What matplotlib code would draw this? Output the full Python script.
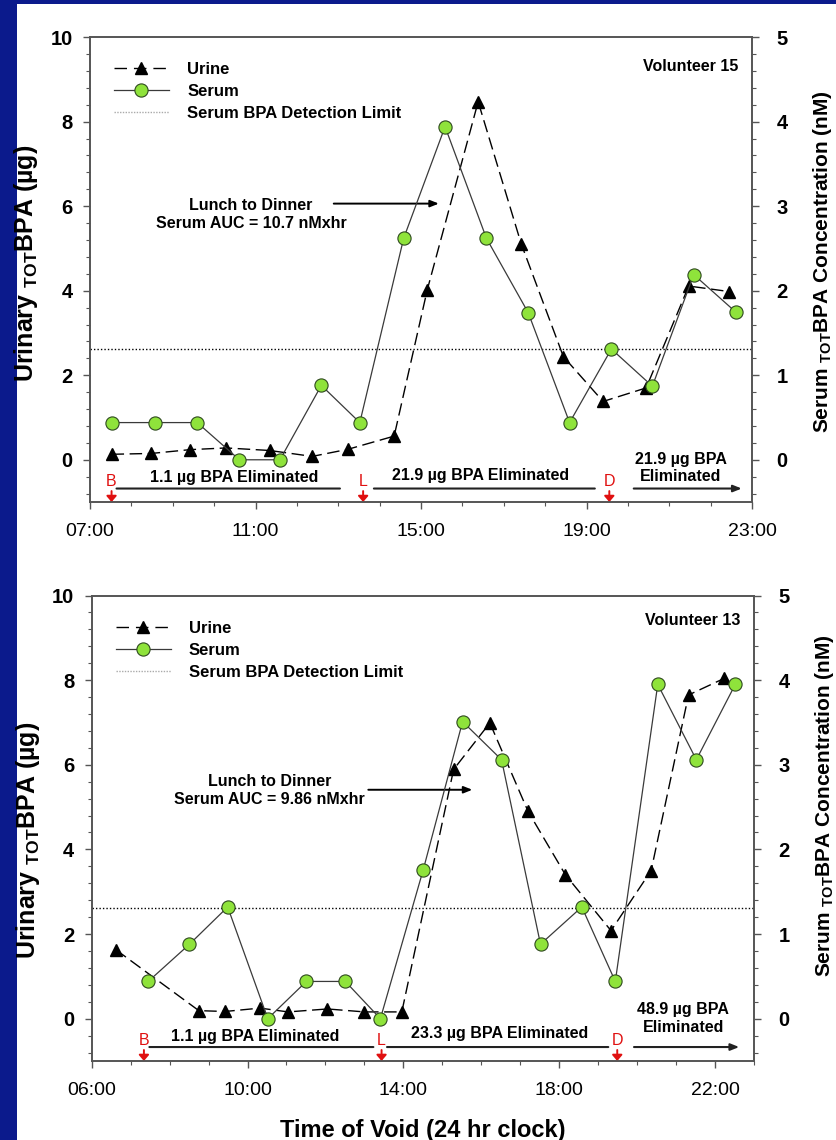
import matplotlib
matplotlib.use('Agg')
import matplotlib.pyplot as plt
from matplotlib.ticker import MultipleLocator
from matplotlib.lines import Line2D
from matplotlib.patches import Rectangle

plt.rcParams['font.family'] = ['Liberation Sans', 'DejaVu Sans']
plt.rcParams['mathtext.fontset'] = 'custom'
plt.rcParams['mathtext.rm'] = 'Liberation Sans'
plt.rcParams['mathtext.bf'] = 'Liberation Sans:bold'
plt.rcParams['mathtext.it'] = 'Liberation Sans:italic'

# ---------------- data ----------------
# Volunteer 15 (top panel)
v15_urine_time = [7.52, 8.48, 9.42, 10.29, 11.34, 12.37, 13.24, 14.35, 15.15, 16.38,
                  17.42, 18.44, 19.40, 20.44, 21.47, 22.44]
v15_urine_ug = [0.13, 0.15, 0.24, 0.28, 0.22, 0.08, 0.25, 0.56, 4.02, 8.47,
                5.11, 2.44, 1.38, 1.70, 4.11, 3.98]
v15_serum_time = [7.52, 8.58, 9.59, 10.61, 11.59, 12.59, 13.52, 14.58, 15.58, 16.58,
                  17.59, 18.59, 19.60, 20.59, 21.59, 22.60]
v15_serum_nM = [0.44, 0.44, 0.44, 0.0, 0.0, 0.88, 0.44, 2.62, 3.94, 2.62,
                1.74, 0.44, 1.31, 0.87, 2.19, 1.75]
v15_meals = [7.52, 13.60, 19.55]
v15_elim = ['1.1 \u00b5g BPA Eliminated', '21.9 \u00b5g BPA Eliminated', '21.9 \u00b5g BPA\nEliminated']
v15_auc = 'Lunch to Dinner\nSerum AUC = 10.7 nMxhr'

# Volunteer 13 (bottom panel)
v13_urine_time = [6.62, 8.75, 9.42, 10.32, 11.04, 12.05, 13.00, 13.96, 15.29, 16.22,
                  17.20, 18.16, 19.33, 20.36, 21.32, 22.23]
v13_urine_ug = [1.63, 0.19, 0.17, 0.25, 0.16, 0.23, 0.16, 0.16, 5.89, 6.99,
                4.90, 3.40, 2.08, 3.50, 7.65, 8.04]
v13_serum_time = [7.45, 8.51, 9.49, 10.52, 11.51, 12.51, 13.41, 14.51, 15.52, 16.52,
                  17.52, 18.58, 19.44, 20.53, 21.52, 22.52]
v13_serum_nM = [0.44, 0.88, 1.32, 0.0, 0.44, 0.44, 0.0, 1.76, 3.51, 3.06,
                0.88, 1.32, 0.44, 3.95, 3.06, 3.95]
v13_meals = [7.34, 13.44, 19.49]
v13_elim = ['1.1 \u00b5g BPA Eliminated', '23.3 \u00b5g BPA Eliminated', '48.9 \u00b5g BPA\nEliminated']
v13_auc = 'Lunch to Dinner\nSerum AUC = 9.86 nMxhr'

detection_limit_nM = 1.31
meal_letters = ['B', 'L', 'D']

GREEN = '#8fe33b'
EDGE = '#2f4a1f'
SPINE = '#555555'

fig = plt.figure(figsize=(8.36, 11.4), dpi=100)
fig.patch.set_facecolor('white')
fig.add_artist(Rectangle((0, 0), 17 / 836, 1, transform=fig.transFigure,
                         facecolor='#0b1a8c', edgecolor='none', zorder=-1))
fig.add_artist(Rectangle((0, 1 - 4 / 1140), 1, 4 / 1140, transform=fig.transFigure,
                         facecolor='#0b1a8c', edgecolor='none', zorder=-1))


def draw_panel(rect, xlim, xmajor, u_t, u_v, s_t, s_v, meals, elim, auc, volunteer, lay):
    ax = fig.add_axes(rect)
    ax2 = ax.twinx()
    ax.set_xlim(*xlim)
    ax.set_ylim(-1, 10)
    ax2.set_ylim(-0.5, 5)

    ax.plot(u_t, u_v, color='black', lw=1.0, dashes=(9, 4), marker='^', ms=9,
            mfc='black', mec='black', zorder=3)
    ax2.axhline(detection_limit_nM, color='black', lw=1.0, ls=(0, (1, 1.5)), zorder=1)
    ax2.plot(s_t, s_v, color='#3a3a3a', lw=0.9, marker='o', ms=9.5, mfc=GREEN,
             mec=EDGE, mew=0.8, zorder=4)

    # ticks
    ax.set_xticks(xmajor)
    ax.set_xticklabels([f'{int(h):02d}:00' for h in xmajor], fontsize=14)
    ax.xaxis.set_minor_locator(MultipleLocator(1))
    ax.set_yticks([0, 2, 4, 6, 8, 10])
    ax.set_yticklabels(['0', '2', '4', '6', '8', '10'], fontsize=14.5, fontweight='bold')
    ax.yaxis.set_minor_locator(MultipleLocator(0.4))
    ax2.set_yticks([0, 1, 2, 3, 4, 5])
    ax2.set_yticklabels(['0', '1', '2', '3', '4', '5'], fontsize=14.5, fontweight='bold')
    ax2.yaxis.set_minor_locator(MultipleLocator(0.2))
    ax.tick_params(axis='both', which='major', direction='out', length=5, width=1, color=SPINE)
    ax.tick_params(axis='both', which='minor', direction='out', length=3, width=0.8, color=SPINE)
    ax.tick_params(axis='x', which='major', pad=10)
    ax.tick_params(axis='y', which='major', pad=7.5)
    ax2.tick_params(axis='y', which='major', direction='out', length=5, width=1, color=SPINE, pad=12.5)
    ax2.tick_params(axis='y', which='minor', direction='out', length=3, width=0.8, color=SPINE)
    for a in (ax, ax2):
        for s in a.spines.values():
            s.set_color(SPINE)
            s.set_linewidth(1.2)

    ax.set_ylabel(r'Urinary $_{\mathbf{TOT}}$BPA (µg)', fontsize=18, fontweight='bold')
    ax.yaxis.set_label_coords(-0.0755, lay['ylab_l'])
    ax2.set_ylabel(r'Serum $_{\mathbf{TOT}}$BPA Concentration (nM)', fontsize=15, fontweight='bold')
    ax2.yaxis.set_label_coords(1.089, lay['ylab_r'])

    # legend
    h_u = Line2D([], [], color='black', lw=1.0, dashes=(9, 5), marker='^', ms=9, mfc='black')
    h_s = Line2D([], [], color='#3a3a3a', lw=0.9, marker='o', ms=9.5, mfc=GREEN, mec=EDGE, mew=0.8)
    h_d = Line2D([], [], color='#aaaaaa', lw=1.0, ls=(0, (1, 1)))
    ax2.legend([h_u, h_s, h_d], ['Urine', 'Serum', 'Serum BPA Detection Limit'],
               loc='upper left', bbox_to_anchor=(0.036, lay['leg_y']), frameon=False,
               prop=dict(weight='bold', size=12), handlelength=3.3, handletextpad=1.1,
               labelspacing=0.42, borderaxespad=0, borderpad=0)

    ax.text(lay['vol'][0], lay['vol'][1], volunteer, ha='right', va='center',
            fontsize=11.5, fontweight='bold')

    # AUC annotation
    ax.text(lay['auc'][0], lay['auc'][1], auc, ha='center', va='center', fontsize=11.5,
            fontweight='bold', linespacing=1.25)
    ax.annotate('', xy=(lay['auc_arrow'][1], lay['auc_arrow'][2]),
                xytext=(lay['auc_arrow'][0], lay['auc_arrow'][2]),
                arrowprops=dict(arrowstyle='-|>,head_length=0.5,head_width=0.2', color='black',
                                lw=1.4, shrinkA=0, shrinkB=0))

    # meal markers
    for t, letter in zip(meals, meal_letters):
        ax.text(t, -0.51, letter, ha='center', va='center', fontsize=11.5, color='#e01010')
        ax.annotate('', xy=(t, -1.0), xytext=(t, -0.74),
                    arrowprops=dict(arrowstyle='-|>,head_length=0.35,head_width=0.3',
                                    color='#e01010', lw=1.4, shrinkA=0, shrinkB=0),
                    annotation_clip=False)

    # elimination spans
    for i, (txt, (x0, x1), (tx, ty)) in enumerate(zip(elim, lay['spans'], lay['elim_txt'])):
        style = '-|>,head_length=0.5,head_width=0.2' if i == 2 else '-'
        ax.annotate('', xy=(x1, lay['span_y']), xytext=(x0, lay['span_y']),
                    arrowprops=dict(arrowstyle=style, color='#222222', lw=1.5,
                                    shrinkA=0, shrinkB=0))
        ax.text(tx, ty, txt, ha='center', va='center', fontsize=11.5, fontweight='bold',
                linespacing=1.2)
    return ax, ax2


top_lay = dict(ylab_l=0.513, ylab_r=0.518, leg_y=0.946, vol=(22.68, 9.31),
               auc=(10.89, 5.81), auc_arrow=(12.89, 15.43, 6.06),
               spans=[(7.64, 13.04), (13.86, 19.2), (20.14, 22.75)], span_y=-0.68,
               elim_txt=[(10.48, -0.42), (16.43, -0.38), (21.27, -0.2)])
bot_lay = dict(ylab_l=0.473, ylab_r=0.549, leg_y=0.946, vol=(22.66, 9.42),
               auc=(10.56, 5.40), auc_arrow=(13.1, 15.77, 5.41),
               spans=[(7.48, 13.23), (13.58, 19.26), (19.92, 22.62)], span_y=-0.67,
               elim_txt=[(10.19, -0.41), (16.48, -0.34), (21.18, 0.0)])

draw_panel([0.1077, 0.5596, 0.7919, 0.4079], (7, 23), [7, 11, 15, 19, 23],
           v15_urine_time, v15_urine_ug, v15_serum_time, v15_serum_nM,
           v15_meals, v15_elim, v15_auc, 'Volunteer 15', top_lay)
axb, axb2 = draw_panel([0.1097, 0.0693, 0.7922, 0.4083], (6, 23), [6, 10, 14, 18, 22],
                       v13_urine_time, v13_urine_ug, v13_serum_time, v13_serum_nM,
                       v13_meals, v13_elim, v13_auc, 'Volunteer 13', bot_lay)
axb.set_xlabel('Time of Void (24 hr clock)', fontsize=17, fontweight='bold')
axb.xaxis.set_label_coords(0.5, -0.124)

fig.savefig('out.png', dpi=100)
